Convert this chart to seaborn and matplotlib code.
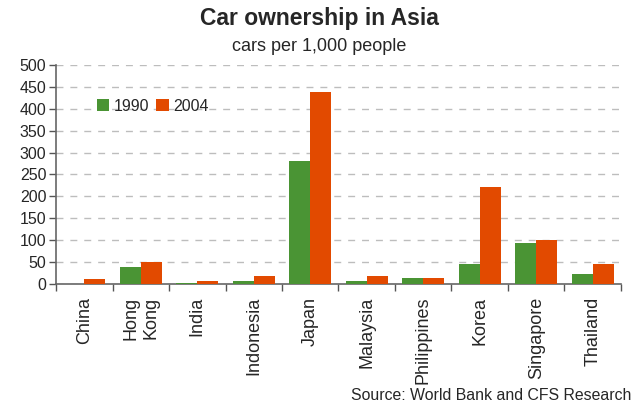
import matplotlib
matplotlib.use("Agg")
import matplotlib.pyplot as plt
import seaborn as sns
import pandas as pd
from matplotlib.patches import Patch
from matplotlib.ticker import FixedLocator

countries = ["China", "Hong\nKong", "India", "Indonesia", "Japan", "Malaysia",
             "Philippines", "Korea", "Singapore", "Thailand"]
cars_1990 = [0, 40, 3, 8, 281, 8, 14, 46, 94, 23]
cars_2004 = [12, 51, 8, 19, 438, 19, 14, 222, 101, 46]
years = ["1990", "2004"]
y_ticks = [0, 50, 100, 150, 200, 250, 300, 350, 400, 450, 500]

GREEN = "#4A9434"
ORANGE = "#E24A00"

sns.set_theme(style="white")
plt.rcParams["font.family"] = ["Liberation Sans", "DejaVu Sans"]

df = pd.DataFrame({
    "country": countries * 2,
    "year": [years[0]] * len(countries) + [years[1]] * len(countries),
    "cars": cars_1990 + cars_2004,
})

fig = plt.figure(figsize=(6.33, 4.03), dpi=100)
ax = fig.add_axes([0.0885, 0.2945, 0.8925, 0.545])

sns.barplot(data=df, x="country", y="cars", hue="year", order=countries,
            hue_order=years, palette=[GREEN, ORANGE], width=0.75,
            saturation=1, ax=ax, legend=False, linewidth=0, zorder=3)

ax.set_xlim(-0.5, len(countries) - 0.5)
ax.set_ylim(0, 500)
ax.set_yticks(y_ticks)
ax.set_yticklabels([str(v) for v in y_ticks], fontsize=11.5)
ax.yaxis.grid(True, color="#BDBDBD", linestyle=(0, (5, 5)), linewidth=1, zorder=0)
ax.set_axisbelow(True)

# category labels centred, tick marks on the boundaries between categories
ax.set_xticks(range(len(countries)))
ax.set_xticklabels(countries, rotation=90, fontsize=13, linespacing=1.25,
                   va="top", ha="center")
ax.tick_params(axis="x", which="major", length=0, pad=9)
ax.xaxis.set_minor_locator(FixedLocator([i - 0.5 for i in range(len(countries) + 1)]))
ax.tick_params(axis="x", which="minor", length=5, width=1, color="#555555", bottom=True)
ax.tick_params(axis="y", length=5, width=1, color="#555555", left=True, pad=2)

ax.set_xlabel("")
ax.set_ylabel("")
for side in ("top", "right"):
    ax.spines[side].set_visible(False)
for side in ("left", "bottom"):
    ax.spines[side].set_color("#666666")
    ax.spines[side].set_linewidth(1.2)

handles = [Patch(facecolor=GREEN, edgecolor="none", label=years[0]),
           Patch(facecolor=ORANGE, edgecolor="none", label=years[1])]
ax.legend(handles=handles, loc="center left", bbox_to_anchor=(0.072, 0.81),
          ncol=2, frameon=False, fontsize=11.5, handlelength=0.8, handleheight=0.8,
          handletextpad=0.25, columnspacing=0.45, borderaxespad=0, borderpad=0)

fig.text(0.505, 0.955, "Car ownership in Asia", ha="center", va="center",
         fontsize=16.5, fontweight="bold")
fig.text(0.505, 0.885, "cars per 1,000 people", ha="center", va="center",
         fontsize=13)
fig.text(0.998, 0.008, "Source: World Bank and CFS Research", ha="right",
         va="baseline", fontsize=11.4)

fig.savefig("out.png", dpi=100)
